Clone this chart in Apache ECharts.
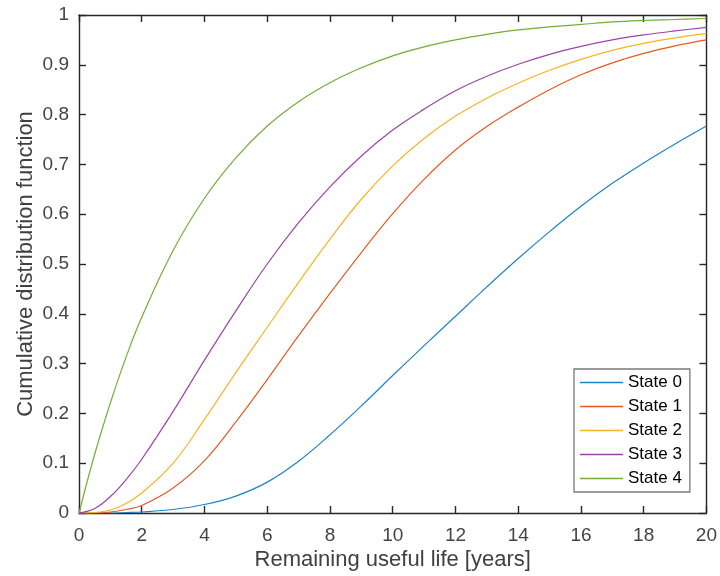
<!DOCTYPE html>
<html><head><meta charset="utf-8">
<script src="https://cdn.jsdelivr.net/npm/echarts@6/dist/echarts.min.js"></script>
<style>html,body{margin:0;padding:0;background:#fff}#c{width:720px;height:576px}</style>
</head><body><div id="c"></div>
<script>
const years = [0,0.5,1,1.5,2,3,4,5,6,7,8,9,10,11,12,13,14,15,16,17,18,19,20];
const state0 = [0,0,0,0.001,0.002,0.007,0.017,0.034,0.062,0.104,0.157,0.215,0.276,0.336,0.395,0.454,0.511,0.565,0.616,0.662,0.703,0.741,0.777];
const state1 = [0,0,0.002,0.007,0.015,0.050,0.105,0.183,0.268,0.356,0.441,0.523,0.601,0.670,0.729,0.776,0.815,0.850,0.880,0.904,0.923,0.938,0.950];
const state2 = [0,0.001,0.006,0.019,0.040,0.100,0.188,0.282,0.373,0.463,0.550,0.630,0.697,0.752,0.797,0.833,0.863,0.889,0.911,0.929,0.943,0.954,0.963];
const state3 = [0,0.009,0.033,0.067,0.108,0.204,0.307,0.406,0.500,0.583,0.655,0.717,0.769,0.811,0.848,0.877,0.901,0.921,0.937,0.950,0.960,0.968,0.975];
const state4 = [0,0.118,0.221,0.313,0.393,0.527,0.632,0.713,0.777,0.826,0.864,0.894,0.918,0.936,0.950,0.961,0.970,0.976,0.981,0.986,0.989,0.991,0.993];
const xTicks = [0,2,4,6,8,10,12,14,16,18,20];
const yTicks = [0,0.1,0.2,0.3,0.4,0.5,0.6,0.7,0.8,0.9,1];
const seriesNames = ['State 0','State 1','State 2','State 3','State 4'];
const seriesValues = [state0,state1,state2,state3,state4];
const colors = ['#1b84cc','#ea5820','#f6b422','#9a44a8','#73ae33'];

const font = 'Liberation Sans, Arial, Helvetica, sans-serif';
const axisCol = '#262626';
const chart = echarts.init(document.getElementById('c'), null, {renderer:'canvas'});
const baseX = {type:'value',min:xTicks[0],max:xTicks[xTicks.length-1],interval:xTicks[1]-xTicks[0],
  axisLine:{show:true,onZero:false,lineStyle:{color:axisCol,width:1.4}},
  axisTick:{show:true,inside:true,length:7,lineStyle:{color:axisCol,width:1.4}},
  splitLine:{show:false}};
const baseY = {type:'value',min:yTicks[0],max:yTicks[yTicks.length-1],interval:0.1,
  axisLine:{show:true,onZero:false,lineStyle:{color:axisCol,width:1.4}},
  axisTick:{show:true,inside:true,length:7,lineStyle:{color:axisCol,width:1.4}},
  splitLine:{show:false}};
chart.setOption({
  animation:false,
  backgroundColor:'#fff',
  color:colors,
  grid:{left:79,right:11,top:15,bottom:63,containLabel:false},
  xAxis:[
    Object.assign({},baseX,{position:'bottom',
      name:'Remaining useful life [years]',nameLocation:'middle',nameGap:36,nameMoveOverlap:false,
      nameTextStyle:{fontFamily:font,fontSize:22,color:'#404040'},
      axisLabel:{margin:13,fontFamily:font,fontSize:19,color:'#444'}}),
    Object.assign({},baseX,{position:'top',axisLabel:{show:false}})
  ],
  yAxis:[
    Object.assign({},baseY,{position:'left',
      name:'Cumulative distribution function',nameLocation:'middle',nameGap:42,nameMoveOverlap:false,
      nameTextStyle:{fontFamily:font,fontSize:22,color:'#404040'},
      axisLabel:{margin:10,fontFamily:font,fontSize:19,color:'#444',formatter:v=>String(+v.toFixed(1))}}),
    Object.assign({},baseY,{position:'right',axisLabel:{show:false}})
  ],
  legend:{
    orient:'vertical',left:574,top:369,
    data:seriesNames,
    icon:'rect',itemWidth:43,itemHeight:1.5,itemGap:7,
    padding:[5,8,5,6],
    borderColor:'#7a7a7a',borderWidth:1.3,backgroundColor:'#fff',
    textStyle:{fontFamily:font,fontSize:17,color:'#000',padding:[0,0,0,0]}
  },
  series:seriesNames.map((n,i)=>({
    name:n,type:'line',xAxisIndex:0,yAxisIndex:0,
    data:years.map((t,j)=>[t,seriesValues[i][j]]),
    showSymbol:false,symbol:'none',smooth:0.4,
    lineStyle:{width:1.2,color:colors[i]},itemStyle:{color:colors[i]}
  }))
});
</script></body></html>
